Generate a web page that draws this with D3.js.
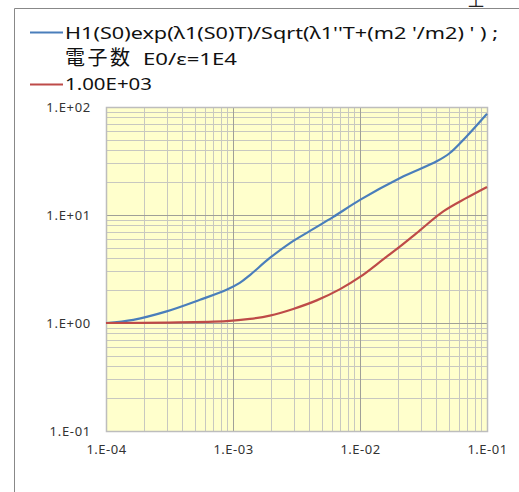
<!DOCTYPE html>
<html>
<head>
<meta charset="utf-8">
<script src="https://cdn.jsdelivr.net/npm/d3@7"></script>
<style>
  body { margin: 0; background: #fff; }
  svg { display: block; }
</style>
</head>
<body>
<svg id="chart"></svg>
<script>
const width = 519;
const height = 492;
const margin = { top: 107, right: 32, bottom: 61, left: 106 };

// T values (x) and the two curves
const blueX = [1e-4, 1.64e-4, 3.0e-4, 5.5e-4, 8.9e-4, 1.13e-3, 1.36e-3, 1.95e-3, 2.81e-3, 4.1e-3, 6.17e-3, 1.0e-2, 2.07e-2, 4.02e-2, 5.1e-2, 6.9e-2, 1.0e-1];
const blueY = [1.0, 1.07, 1.28, 1.64, 2.03, 2.35, 2.78, 4.0, 5.5, 7.2, 9.6, 13.8, 22, 31.4, 37.5, 53.4, 86.7];

const redX = [1e-4, 3.0e-4, 8.9e-4, 1.36e-3, 1.95e-3, 2.98e-3, 4.56e-3, 6.97e-3, 1.0e-2, 1.53e-2, 2.07e-2, 2.79e-2, 4.53e-2, 6.9e-2, 1.0e-1];
const redY = [1.0, 1.01, 1.04, 1.09, 1.17, 1.35, 1.62, 2.06, 2.67, 3.9, 5.12, 6.8, 10.8, 14.4, 18.2];

const xTicks = [1e-4, 1e-3, 1e-2, 1e-1];
const xTickLabels = ["1.E-04", "1.E-03", "1.E-02", "1.E-01"];
const yTicks = [1e-1, 1e0, 1e1, 1e2];
const yTickLabels = ["1.E-01", "1.E+00", "1.E+01", "1.E+02"];

const legendLabels = ["H1(S0)exp(λ1(S0)T)/Sqrt(λ1''T+(m2 '/m2) ' ) ;", "電子数", "E0/ε=1E4", "1.00E+03"];
const colors = ["#4a7ebb", "#be4b48"];

const svg = d3.select("#chart")
    .attr("width", width)
    .attr("height", height)
    .style("font-family", "'Noto Sans', 'Noto Sans CJK JP', sans-serif");

// outer frame (partly cut off)
svg.append("path")
    .attr("d", `M14.5,${height} V8.5 H${width}`)
    .attr("fill", "none")
    .attr("stroke", "#888")
    .attr("stroke-width", 1);

svg.append("text")
    .attr("x", 476)
    .attr("y", 6)
    .attr("text-anchor", "middle")
    .attr("font-size", 16)
    .attr("fill", "#222")
    .text("土");

const xScale = d3.scaleLog()
    .domain([1e-4, 1e-1])
    .range([margin.left, width - margin.right]);

const yScale = d3.scaleLog()
    .domain([1e-1, 1e2])
    .range([height - margin.bottom, margin.top]);

svg.append("rect")
    .attr("x", margin.left)
    .attr("y", margin.top)
    .attr("width", xScale.range()[1] - margin.left)
    .attr("height", yScale.range()[0] - margin.top)
    .attr("fill", "#ffffcc");

// minor grid
const minorX = [];
const minorY = [];
for (let e = -4; e < -1; e++) {
    for (let m = 2; m <= 9; m++) minorX.push(m * Math.pow(10, e));
}
for (let e = -1; e < 2; e++) {
    for (let m = 2; m <= 9; m++) minorY.push(m * Math.pow(10, e));
}

const grid = svg.append("g").attr("shape-rendering", "crispEdges");

grid.selectAll(".vminor")
    .data(minorX)
    .enter()
    .append("line")
    .attr("x1", d => Math.round(xScale(d)) + 0.5)
    .attr("x2", d => Math.round(xScale(d)) + 0.5)
    .attr("y1", margin.top)
    .attr("y2", height - margin.bottom)
    .attr("stroke", "#c8c8c0");

grid.selectAll(".hminor")
    .data(minorY)
    .enter()
    .append("line")
    .attr("x1", margin.left)
    .attr("x2", width - margin.right)
    .attr("y1", d => Math.round(yScale(d)) + 0.5)
    .attr("y2", d => Math.round(yScale(d)) + 0.5)
    .attr("stroke", "#c8c8c0");

grid.selectAll(".vmajor")
    .data(xTicks)
    .enter()
    .append("line")
    .attr("x1", d => Math.round(xScale(d)) + 0.5)
    .attr("x2", d => Math.round(xScale(d)) + 0.5)
    .attr("y1", margin.top)
    .attr("y2", height - margin.bottom)
    .attr("stroke", "#a0a098");

grid.selectAll(".hmajor")
    .data(yTicks)
    .enter()
    .append("line")
    .attr("x1", margin.left)
    .attr("x2", width - margin.right)
    .attr("y1", d => Math.round(yScale(d)) + 0.5)
    .attr("y2", d => Math.round(yScale(d)) + 0.5)
    .attr("stroke", "#a0a098");

svg.append("rect")
    .attr("x", margin.left + 0.5)
    .attr("y", margin.top + 0.5)
    .attr("width", xScale.range()[1] - margin.left)
    .attr("height", yScale.range()[0] - margin.top)
    .attr("fill", "none")
    .attr("stroke", "#bdbdbd")
    .attr("stroke-width", 1.5);

// axes
const xAxis = d3.axisBottom(xScale)
    .tickValues(xTicks)
    .tickFormat((d, i) => xTickLabels[i])
    .tickSize(0)
    .tickPadding(14);

const yAxis = d3.axisLeft(yScale)
    .tickValues(yTicks)
    .tickFormat((d, i) => yTickLabels[i])
    .tickSize(0)
    .tickPadding(15);

svg.append("g")
    .attr("transform", `translate(0, ${height - margin.bottom})`)
    .call(xAxis)
    .call(g => g.select(".domain").remove())
    .selectAll("text")
    .attr("font-size", 13)
    .attr("letter-spacing", 0.5)
    .attr("font-family", "'Noto Sans', sans-serif")
    .attr("fill", "#333");

svg.append("g")
    .attr("transform", `translate(${margin.left}, 0)`)
    .call(yAxis)
    .call(g => g.select(".domain").remove())
    .selectAll("text")
    .attr("font-size", 13)
    .attr("letter-spacing", 0.7)
    .attr("font-family", "'Noto Sans', sans-serif")
    .attr("fill", "#333");

// curves
const line = d3.line()
    .x(d => xScale(d[0]))
    .y(d => yScale(d[1]))
    .curve(d3.curveCatmullRom.alpha(0.5));

svg.append("path")
    .datum(blueX.map((x, i) => [x, blueY[i]]))
    .attr("fill", "none")
    .attr("stroke", colors[0])
    .attr("stroke-width", 2.2)
    .attr("d", line);

svg.append("path")
    .datum(redX.map((x, i) => [x, redY[i]]))
    .attr("fill", "none")
    .attr("stroke", colors[1])
    .attr("stroke-width", 2.2)
    .attr("d", line);

// legend
const legend = svg.append("g").attr("fill", "#111");

legend.append("line")
    .attr("x1", 30).attr("x2", 63)
    .attr("y1", 32.5).attr("y2", 32.5)
    .attr("stroke", colors[0]).attr("stroke-width", 2);

legend.append("text")
    .attr("x", 65).attr("y", 38.5)
    .attr("font-size", 16)
    .attr("textLength", 433)
    .attr("lengthAdjust", "spacingAndGlyphs")
    .text(legendLabels[0]);

legend.append("text")
    .attr("x", 65).attr("y", 65)
    .attr("font-size", 20)
    .attr("font-family", "'Noto Sans CJK JP', sans-serif")
    .attr("textLength", 65)
    .text(legendLabels[1]);

legend.append("text")
    .attr("x", 143).attr("y", 64.5)
    .attr("font-size", 16)
    .attr("textLength", 94)
    .attr("lengthAdjust", "spacingAndGlyphs")
    .text(legendLabels[2]);

legend.append("line")
    .attr("x1", 30).attr("x2", 63)
    .attr("y1", 84.5).attr("y2", 84.5)
    .attr("stroke", colors[1]).attr("stroke-width", 2);

legend.append("text")
    .attr("x", 65).attr("y", 89.5)
    .attr("font-size", 16)
    .attr("textLength", 87)
    .attr("lengthAdjust", "spacingAndGlyphs")
    .text(legendLabels[3]);
</script>
</body>
</html>
